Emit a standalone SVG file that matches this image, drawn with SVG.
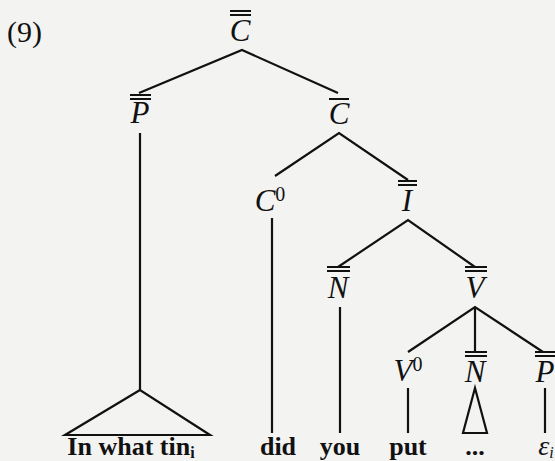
<svg xmlns="http://www.w3.org/2000/svg" width="555" height="461" viewBox="0 0 555 461">
<style>
.lbl{font-family:"Liberation Serif","DejaVu Serif",serif;font-style:italic;font-size:31px;fill:#111;text-anchor:middle}
.sup{font-style:normal;font-size:20px}
.word{font-family:"Liberation Serif","DejaVu Serif",serif;font-weight:bold;font-size:26px;fill:#111;text-anchor:middle}
.sub{font-size:16px}
.num{font-family:"Liberation Serif","DejaVu Serif",serif;font-size:30px;fill:#111}
.bar{stroke:#111;stroke-width:2}
.edge{stroke:#111;stroke-width:2.2;fill:none;stroke-linejoin:miter}
</style>
<rect width="555" height="461" fill="#f3f3f2"/>
<text class="num" x="7" y="42">(9)</text>

<g id="connectors">
<polyline class="edge" points="139,93 242,50 338,93"/>
<line class="edge" x1="140" y1="133" x2="140" y2="390"/>
<polygon class="edge" points="140,390 65,435 210,435"/>
<polyline class="edge" points="275,176 339,133 408,180"/>
<line class="edge" x1="272" y1="218" x2="272" y2="433"/>
<polyline class="edge" points="338,267 408,220 475,267"/>
<line class="edge" x1="340" y1="307" x2="340" y2="433"/>
<polyline class="edge" points="408,352 475,307 543,352"/>
<line class="edge" x1="475" y1="307" x2="475" y2="352"/>
<line class="edge" x1="408" y1="388" x2="408" y2="433"/>
<polygon class="edge" points="475,388 463,433 487,433"/>
<line class="edge" x1="545" y1="388" x2="545" y2="433"/>
</g>

<g id="n-Cbarbar">
<line class="bar" x1="230" y1="11" x2="251" y2="11"/>
<line class="bar" x1="230" y1="15" x2="251" y2="15"/>
<text class="lbl" x="240" y="41">C</text>
</g>
<g id="n-Pbarbar">
<line class="bar" x1="130" y1="95" x2="151" y2="95"/>
<line class="bar" x1="130" y1="99" x2="151" y2="99"/>
<text class="lbl" x="140" y="123">P</text>
</g>
<g id="n-Cbar">
<line class="bar" x1="329" y1="99" x2="349" y2="99"/>
<text class="lbl" x="339" y="124">C</text>
</g>
<g id="n-C0">
<text class="lbl" x="270" y="211">C<tspan class="sup" dy="-10">0</tspan></text>
</g>
<g id="n-Ibarbar">
<line class="bar" x1="398" y1="181" x2="417" y2="181"/>
<line class="bar" x1="398" y1="185" x2="417" y2="185"/>
<text class="lbl" x="407" y="211">I</text>
</g>
<g id="n-Nbarbar">
<line class="bar" x1="327" y1="267" x2="350" y2="267"/>
<line class="bar" x1="327" y1="271" x2="350" y2="271"/>
<text class="lbl" x="338" y="298">N</text>
</g>
<g id="n-Vbarbar">
<line class="bar" x1="465" y1="267" x2="487" y2="267"/>
<line class="bar" x1="465" y1="271" x2="487" y2="271"/>
<text class="lbl" x="475" y="298">V</text>
</g>
<g id="n-V0">
<text class="lbl" x="408" y="381">V<tspan class="sup" dy="-10">0</tspan></text>
</g>
<g id="n-Nbarbar2">
<line class="bar" x1="465" y1="352" x2="487" y2="352"/>
<line class="bar" x1="465" y1="356" x2="487" y2="356"/>
<text class="lbl" x="475" y="382">N</text>
</g>
<g id="n-Pbarbar2">
<line class="bar" x1="535" y1="352" x2="555" y2="352"/>
<line class="bar" x1="535" y1="356" x2="555" y2="356"/>
<text class="lbl" x="545" y="382">P</text>
</g>

<g id="words">
<text class="word" x="131" y="455">In what tin<tspan class="sub" dy="3">i</tspan></text>
<text class="word" x="278" y="455">did</text>
<text class="word" x="340" y="455">you</text>
<text class="word" x="408" y="455">put</text>
<text class="word" x="475" y="455">...</text>
<text class="word" x="546" y="455" style="font-weight:normal;font-style:italic;font-size:28px">ε<tspan class="sub" dy="3">i</tspan></text>
</g>
</svg>
